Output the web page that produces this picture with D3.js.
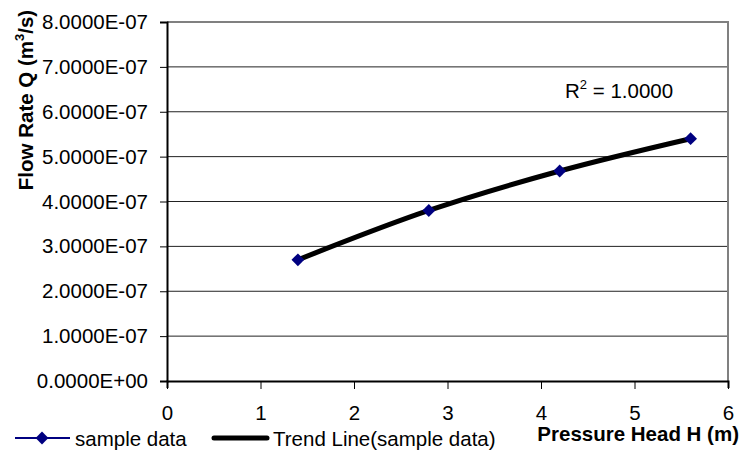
<!DOCTYPE html>
<html>
<head>
<meta charset="utf-8">
<script src="https://cdn.jsdelivr.net/npm/d3@7"></script>
<style>
  body { margin: 0; background: #fff; }
  svg { font-family: "Liberation Sans", Arial, sans-serif; }
</style>
</head>
<body>
<div id="chart"></div>
<script>
// sample data
const headH = [1.4, 2.8, 4.2, 5.6];
const flowQ = [2.7e-7, 3.8e-7, 4.68e-7, 5.4e-7];
const xTicks = [0, 1, 2, 3, 4, 5, 6];
const yTicks = [0, 1e-7, 2e-7, 3e-7, 4e-7, 5e-7, 6e-7, 7e-7, 8e-7];
const seriesNames = ["sample data", "Trend Line(sample data)"];
const r2Label = "1.0000";

const W = 743, H = 453;
const FS = 20.5;
const margin = { top: 22, right: 15, bottom: 72, left: 167 };
const w = W - margin.left - margin.right,
  h = H - margin.top - margin.bottom;

const svg = d3.select("#chart").append("svg")
  .attr("width", W).attr("height", H);

const g = svg.append("g")
  .attr("transform", "translate(" + margin.left + "," + margin.top + ")");

const x = d3.scaleLinear().domain([0, 6]).range([0, w]);
const y = d3.scaleLinear().domain([0, 8e-7]).range([h, 0]);

// grid lines
g.selectAll("line.grid")
  .data(yTicks.slice(1))
  .enter()
  .append("line")
  .attr("class", "grid")
  .attr("x1", 0).attr("x2", w)
  .attr("y1", d => y(d)).attr("y2", d => y(d))
  .attr("stroke", "#222").attr("stroke-width", 1);

// plot frame (top and right in grey)
g.append("path")
  .attr("d", "M0," + 0 + "H" + w + "V" + h)
  .attr("fill", "none").attr("stroke", "#808080").attr("stroke-width", 2);

// axes
const fmt = d => d3.format(".4e")(d).replace("e-", "E-0").replace("e+", "E+0").toUpperCase();
const yAxis = g.append("g")
  .call(d3.axisLeft(y).tickValues(yTicks).tickSize(7).tickPadding(12).tickFormat(fmt));
const xAxis = g.append("g")
  .attr("transform", "translate(0," + h + ")")
  .call(d3.axisBottom(x).tickValues(xTicks).tickSize(7).tickPadding(17).tickFormat(d3.format("d")));

[yAxis, xAxis].forEach(a => {
  a.select(".domain").attr("stroke", "#000").attr("stroke-width", 2);
  a.selectAll(".tick line").attr("stroke", "#000").attr("stroke-width", 1);
  a.selectAll("text").attr("font-size", FS).attr("fill", "#000")
    .attr("font-family", "Liberation Sans, Arial, sans-serif");
});
xAxis.selectAll(".tick line").attr("transform", "translate(0,1)");

// trend line through the sample data
const pts = headH.map((d, i) => [d, flowQ[i]]);
const trend = d3.line()
  .x(d => x(d[0])).y(d => y(d[1]))
  .curve(d3.curveMonotoneX);

g.append("path")
  .datum(pts)
  .attr("d", trend)
  .attr("fill", "none").attr("stroke", "#000").attr("stroke-width", 5);

// markers
const diamond = d3.symbol().type(d3.symbolDiamond2).size(105);
g.selectAll("path.pt")
  .data(pts)
  .enter()
  .append("path")
  .attr("class", "pt")
  .attr("d", diamond)
  .attr("transform", d => "translate(" + x(d[0]) + "," + y(d[1]) + ")")
  .attr("fill", "#000080");

// R squared label
const r2 = svg.append("text")
  .attr("x", 565).attr("y", 98)
  .attr("font-size", FS).attr("fill", "#000");
r2.append("tspan").text("R");
r2.append("tspan").attr("dy", -9).attr("font-size", 13).text("2");
r2.append("tspan").attr("dy", 9).text(" = " + r2Label);

// axis titles
const yt = svg.append("text")
  .attr("transform", "translate(33,100) rotate(-90)")
  .attr("text-anchor", "middle")
  .attr("font-size", FS).attr("font-weight", "bold").attr("fill", "#000");
yt.append("tspan").text("Flow Rate Q (m");
yt.append("tspan").attr("dy", -9).attr("font-size", 13).text("3");
yt.append("tspan").attr("dy", 9).text("/s)");

svg.append("text")
  .attr("x", 739).attr("y", 441)
  .attr("text-anchor", "end")
  .attr("font-size", FS).attr("font-weight", "bold").attr("fill", "#000")
  .text("Pressure Head H (m)");

// legend
const leg = svg.append("g").attr("transform", "translate(15,446)");
leg.append("line").attr("x1", 0).attr("x2", 55).attr("y1", -8).attr("y2", -8)
  .attr("stroke", "#000080").attr("stroke-width", 2);
leg.append("path").attr("d", diamond)
  .attr("transform", "translate(27,-8)").attr("fill", "#000080");
leg.append("text").attr("x", 60).attr("y", 0)
  .attr("font-size", FS).attr("fill", "#000").text(seriesNames[0]);

const leg2 = svg.append("g").attr("transform", "translate(212,446)");
leg2.append("line").attr("x1", 2).attr("x2", 55).attr("y1", -8).attr("y2", -8)
  .attr("stroke", "#000").attr("stroke-width", 5).attr("stroke-linecap", "round");
leg2.append("text").attr("x", 61).attr("y", 0)
  .attr("font-size", FS).attr("fill", "#000").text(seriesNames[1]);
</script>
</body>
</html>
